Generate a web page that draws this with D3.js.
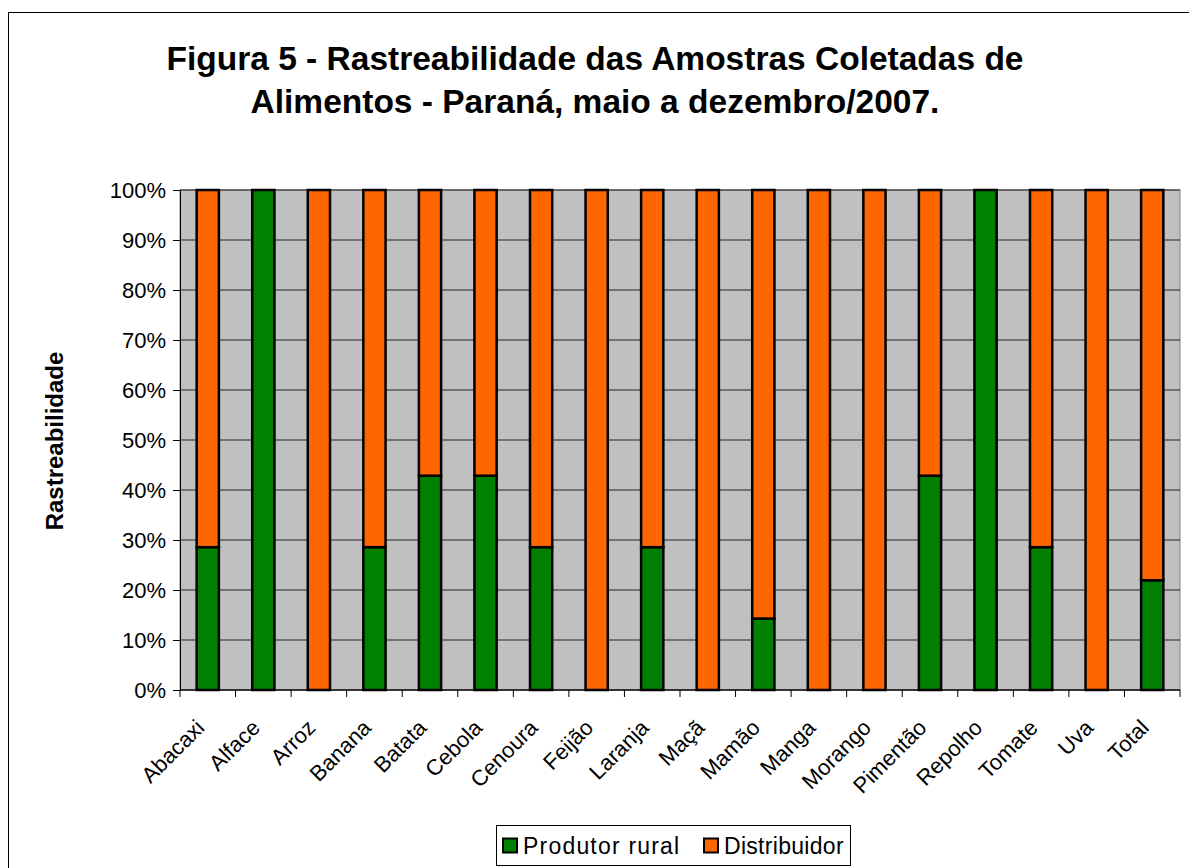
<!DOCTYPE html>
<html><head><meta charset="utf-8">
<script src="https://cdn.jsdelivr.net/npm/d3@7"></script>
<style>body{margin:0;background:#fff}svg{display:block;font-family:"Liberation Sans",Arial,sans-serif}</style>
</head><body>
<svg id="c" width="1189" height="868"></svg>
<script>
const categories = ["Abacaxi","Alface","Arroz","Banana","Batata","Cebola","Cenoura","Feijão","Laranja","Maçã","Mamão","Manga","Morango","Pimentão","Repolho","Tomate","Uva","Total"];
const produtorRural = [28.57,100,0,28.57,42.86,42.86,28.57,0,28.57,0,14.29,0,0,42.86,100,28.57,0,21.95];
const distribuidor = produtorRural.map(v => 100 - v);
const seriesNames = ["Produtor rural","Distribuidor"];
const seriesColors = ["#008000","#FF6600"];
const yTicks = [0,10,20,30,40,50,60,70,80,90,100];
const titleLines = ["Figura 5 - Rastreabilidade das Amostras Coletadas de","Alimentos - Paraná, maio a dezembro/2007."];

const svg = d3.select("#c");
svg.append("rect").attr("x",8.5).attr("y",12.5).attr("width",1200).attr("height",900)
  .attr("fill","#fff").attr("stroke","#000").attr("stroke-width",1);

const L=180,R=1180,T=190,B=690;
const x = d3.scaleBand().domain(categories).range([L,R]).paddingInner(0.6).paddingOuter(0.3);
const xb = d3.scaleBand().domain(categories).range([L,R]);
const y = d3.scaleLinear().domain([0,100]).range([B,T]);

svg.append("rect").attr("x",L).attr("y",T).attr("width",R-L).attr("height",B-T).attr("fill","#C0C0C0")
  .attr("stroke","#808080");

svg.append("g").selectAll("line").data(yTicks).join("line")
  .attr("x1",L).attr("x2",R).attr("y1",d=>y(d)).attr("y2",d=>y(d)).attr("stroke","#000").attr("stroke-width",1).attr("opacity",0.8);

const table = categories.map((c,i)=>({cat:c, "Produtor rural":produtorRural[i], "Distribuidor":distribuidor[i]}));
const stack = d3.stack().keys(seriesNames)(table);
stack.forEach((s,si)=>{
  svg.append("g").selectAll("rect").data(s.filter(d=>d[1]-d[0]>0)).join("rect")
    .attr("x",d=>x(d.data.cat)).attr("width",x.bandwidth())
    .attr("y",d=>y(d[1])).attr("height",d=>y(d[0])-y(d[1]))
    .attr("fill",seriesColors[si]).attr("stroke","#000").attr("stroke-width",2.5);
});

// y axis
const ya = svg.append("g").attr("transform",`translate(${L},0)`)
  .call(d3.axisLeft(y).tickValues(yTicks).tickFormat(d=>d+"%").tickSize(7).tickSizeOuter(0));
ya.attr("font-size",null).attr("font-family",null);
ya.select(".domain").attr("stroke","#000");
ya.selectAll("text").style("font-size","22px").attr("fill","#000").attr("x",-14).attr("dy","0.36em");

// x axis
const xa = svg.append("g").attr("transform",`translate(0,${B})`);
xa.append("line").attr("x1",L).attr("x2",R).attr("stroke","#000");
const bounds = categories.map(c=>xb(c)).concat([R]);
xa.selectAll("line.t").data(bounds).join("line").attr("class","t")
  .attr("x1",d=>d).attr("x2",d=>d).attr("y1",0).attr("y2",7).attr("stroke","#000");
xa.selectAll("text").data(categories).join("text")
  .attr("transform",d=>`translate(${x(d)+x.bandwidth()/2-2},${39}) rotate(-45)`)
  .attr("text-anchor","end").style("font-size","22px").attr("fill","#000").text(d=>d);

// y label
svg.append("text").attr("transform",`translate(63,${441}) rotate(-90)`).attr("text-anchor","middle")
  .style("font-size","24px").attr("font-weight","bold").text("Rastreabilidade");

// title
svg.append("g").selectAll("text").data(titleLines).join("text")
  .attr("x",595).attr("y",(d,i)=>70+i*43).attr("text-anchor","middle")
  .style("font-size","33.5px").attr("font-weight","bold").text(d=>d);

// legend
const lg = svg.append("g");
lg.append("rect").attr("x",496.5).attr("y",825.5).attr("width",354).attr("height",40).attr("fill","#fff").attr("stroke","#000");
const items=[{n:seriesNames[0],c:seriesColors[0],x:503,ls:"1.2px"},{n:seriesNames[1],c:seriesColors[1],x:704,ls:"0.3px"}];
items.forEach(it=>{
  lg.append("rect").attr("x",it.x).attr("y",838.5).attr("width",14).attr("height",14).attr("fill",it.c).attr("stroke","#000").attr("stroke-width",2);
  lg.append("text").attr("x",it.x+20).attr("y",854).style("font-size","23px").style("letter-spacing",it.ls).text(it.n);
});
</script>
</body></html>
